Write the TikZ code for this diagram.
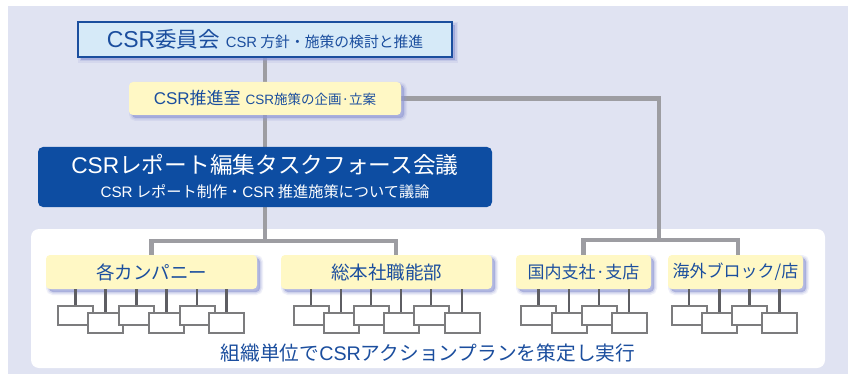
\documentclass[tikz,border=0pt]{standalone}
\usepackage{fontspec}
\setmainfont{Noto Sans CJK JP}
\newfontfamily\lat{Liberation Sans}
\usetikzlibrary{shadows,calc}
\pgfdeclarelayer{bgzero}
\pgfdeclarelayer{bgone}
\pgfsetlayers{bgzero,bgone,main}
\definecolor{lav}{HTML}{E0E3F2}
\definecolor{ltblue}{HTML}{D6EAF8}
\definecolor{dblue}{HTML}{1B4E9E}
\definecolor{boxblue}{HTML}{0D4DA2}
\definecolor{yel}{HTML}{FFF8C5}
\definecolor{connc}{HTML}{9D9DA2}
\definecolor{sboxc}{HTML}{7C7C7E}
\definecolor{slinec}{HTML}{5E5E63}
\definecolor{shc}{HTML}{9098D4}
\newcommand\fs[1]{\fontsize{#1pt}{#1pt}\selectfont}
\tikzset{
  softshadow/.style={
    drop shadow={shadow xshift=3pt, shadow yshift=-3pt, fill=shc, draw=shc, line width=6pt, opacity=0.15},
    drop shadow={shadow xshift=3pt, shadow yshift=-3pt, fill=shc, draw=shc, line width=3pt, opacity=0.25},
    drop shadow={shadow xshift=3pt, shadow yshift=-3pt, fill=shc, draw=none, opacity=0.4}},
  ybox/.style={fill=yel, rounded corners=4pt, minimum height=34pt, inner sep=0pt, softshadow, text=dblue},
  sbox/.style={draw=sboxc, fill=white, line width=2pt, minimum width=35pt, minimum height=19.5pt, inner sep=0pt},
  conn/.style={draw=connc, line width=4.5pt},
  sline/.style={draw=slinec, line width=2.2pt}
}
\begin{document}
\begin{tikzpicture}[x=1pt,y=-1pt]
\useasboundingbox (0,0) rectangle (850,374);
\begin{pgfonlayer}{bgzero}
\fill[lav] (8,6) rectangle (848,374);
\fill[white, rounded corners=8pt] (31,229) rectangle (825,368);
\end{pgfonlayer}

\node[draw=dblue, line width=2.5pt, fill=ltblue, minimum width=374pt, minimum height=35pt, inner sep=0pt, softshadow, text=dblue] (iinkai) at (265,39.5)
  {{\fs{23}\lat CSR}{\fs{21.5}委員会}\hspace{6pt}{\fs{14.8}{\lat CSR} 方針・施策の検討と推進}};
\node[fill=yel, rounded corners=4pt, minimum width=272pt, minimum height=33pt, inner sep=0pt, softshadow, text=dblue] (suishin) at (265,98.5)
  {{\fs{17}{\lat CSR}推進室}\hspace{5pt}{\fs{13.5}{\lat CSR}施策の企画·立案}};
\node[fill=boxblue, rounded corners=5pt, minimum width=454pt, minimum height=60pt, inner sep=0pt, text=white, align=center, font=\fontsize{22.7pt}{24pt}\selectfont] (tf) at (265,177)
  {{\lat CSR}レポート編集タスクフォース会議\\{\fs{15.2}{\lat CSR} レポート制作・{\lat CSR} 推進施策について議論}};

\node[ybox, minimum width=211pt] (kaku) at (151.5,272) {\fs{18.5}各カンパニー};
\node[ybox, minimum width=211pt] (soho) at (386.5,272) {\fs{18.5}総本社職能部};
\node[ybox, minimum width=135pt] (kokunai) at (583.5,272) {\fs{17}国内支社·支店};
\node[ybox, minimum width=135pt] (kaigai) at (735.5,272) {\fs{17}海外ブロック/店};

\node[text=dblue] (plan) at (428,353) {\fs{19.7}組織単位で{\lat CSR}アクションプランを策定し実行};

\begin{pgfonlayer}{bgone}
\coordinate (jl) at (265,241);
\coordinate (jr) at (659,240);
\draw[conn] (iinkai) -- (suishin);
\draw[conn] (suishin) -- (tf);
\draw[conn] (tf.south) -- (jl);
\draw[conn] (kaku.north) |- (jl) -| ([xshift=9.5pt]soho.north);
\draw[conn] (suishin.east) -| (jr);
\draw[conn] (kokunai.north) |- (jr) -| ([xshift=2.5pt]kaigai.north);
\end{pgfonlayer}

\foreach \g/\lst in {kaku/{75.5,105.5,136.5,166.5,197,226.5},soho/{311,341,371,401,431,462},kokunai/{538.5,569,599,629},kaigai/{689,719.5,749.5,779.5}}{
  \foreach \x [count=\i] in \lst {
    \ifodd\i \def\yy{315.5}\else\def\yy{323}\fi
    \node[sbox] (\g\i) at (\x,\yy) {};
    \draw[sline] (\g\i.north |- \g.south) -- (\g\i.north);
  }
}
\end{tikzpicture}
\end{document}
